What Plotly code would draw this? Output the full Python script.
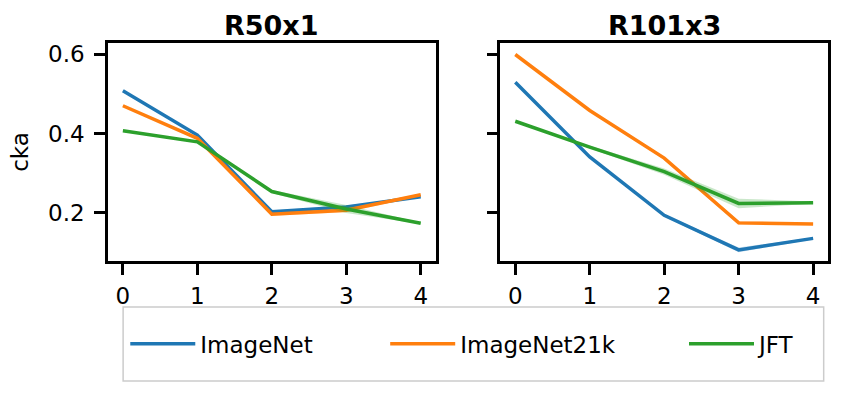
import plotly.graph_objects as go
from plotly.subplots import make_subplots

# layer index on x, cka on y
layers = [0, 1, 2, 3, 4]
panels = ["R50x1", "R101x3"]
series_names = ["ImageNet", "ImageNet21k", "JFT"]
colors = ["#1f77b4", "#ff7f0e", "#2ca02c"]
band_colors = ["rgba(31,119,180,0.25)", "rgba(255,127,14,0.25)", "rgba(44,160,44,0.25)"]

# R50x1
r50_imagenet = [0.508, 0.396, 0.203, 0.215, 0.241]
r50_imagenet21k = [0.470, 0.388, 0.197, 0.207, 0.246]
r50_jft = [0.407, 0.379, 0.254, 0.210, 0.174]
r50_imagenet_err = [0.002, 0.002, 0.003, 0.004, 0.002]
r50_imagenet21k_err = [0.002, 0.002, 0.004, 0.005, 0.003]
r50_jft_err = [0.002, 0.002, 0.004, 0.010, 0.002]

# R101x3
r101_imagenet = [0.529, 0.341, 0.194, 0.107, 0.136]
r101_imagenet21k = [0.599, 0.458, 0.338, 0.175, 0.172]
r101_jft = [0.431, 0.366, 0.304, 0.224, 0.226]
r101_imagenet_err = [0.002, 0.002, 0.003, 0.006, 0.002]
r101_imagenet21k_err = [0.002, 0.002, 0.004, 0.005, 0.002]
r101_jft_err = [0.002, 0.003, 0.008, 0.012, 0.003]

data = {
    "R50x1": [(r50_imagenet, r50_imagenet_err), (r50_imagenet21k, r50_imagenet21k_err), (r50_jft, r50_jft_err)],
    "R101x3": [(r101_imagenet, r101_imagenet_err), (r101_imagenet21k, r101_imagenet21k_err), (r101_jft, r101_jft_err)],
}

# one legend per series so the entries can be spread like matplotlib does
legend_ids = ["legend", "legend2", "legend3"]
legend_x = [0.024, 0.385, 0.8]

fig = make_subplots(rows=1, cols=2, shared_yaxes=True, horizontal_spacing=0.09,
                    subplot_titles=panels)

for col, panel in enumerate(panels, start=1):
    for i, (vals, err) in enumerate(data[panel]):
        upper = [v + e for v, e in zip(vals, err)]
        lower = [v - e for v, e in zip(vals, err)]
        fig.add_trace(go.Scatter(x=layers, y=upper, mode="lines", line=dict(width=0),
                                 showlegend=False, hoverinfo="skip"), row=1, col=col)
        fig.add_trace(go.Scatter(x=layers, y=lower, mode="lines", line=dict(width=0),
                                 fill="tonexty", fillcolor=band_colors[i],
                                 showlegend=False, hoverinfo="skip"), row=1, col=col)
        fig.add_trace(go.Scatter(x=layers, y=vals, mode="lines", name=series_names[i],
                                 line=dict(color=colors[i], width=3.5),
                                 legend=legend_ids[i],
                                 showlegend=(col == 1)), row=1, col=col)

axis_style = dict(showline=True, linecolor="black", linewidth=2.5, mirror=True,
                  ticks="outside", ticklen=11, tickwidth=2.5, tickcolor="black",
                  showgrid=False, zeroline=False,
                  tickfont=dict(family="DejaVu Sans", size=23, color="black"))

fig.update_xaxes(range=[-0.2, 4.2], tickvals=layers, ticklabelstandoff=2, **axis_style)
fig.update_yaxes(range=[0.079, 0.628], tickvals=[0.2, 0.4, 0.6], tickformat=".1f",
                 ticklabelstandoff=5, **axis_style)
fig.update_yaxes(title_text="cka", title_font=dict(family="DejaVu Sans", size=23, color="black"),
                 title_standoff=14, row=1, col=1)

for ann in fig.layout.annotations:
    ann.font = dict(family="DejaVu Sans", size=27, color="black")
    ann.text = "<b>" + ann.text + "</b>"
    ann.yshift = 0

# legend frame
fig.add_shape(type="rect", xref="paper", yref="paper", x0=0.021, x1=0.994, y0=-0.55, y1=-0.211,
              line=dict(color="#cccccc", width=1.5), fillcolor="rgba(0,0,0,0)")

fig.update_layout(
    width=856, height=393,
    margin=dict(l=108, r=28, t=43, b=132),
    plot_bgcolor="white", paper_bgcolor="white",
    font=dict(family="DejaVu Sans", size=23, color="black"),
)
for lid, lx in zip(legend_ids, legend_x):
    fig.update_layout({lid: dict(orientation="h", x=lx, xanchor="left", y=-0.38, yanchor="middle",
                                 borderwidth=0, bgcolor="rgba(0,0,0,0)", itemwidth=65,
                                 font=dict(family="DejaVu Sans", size=23, color="black"))})

fig.write_html("out.html", config={"displayModeBar": False},
               post_script="document.body.style.margin='0';")
